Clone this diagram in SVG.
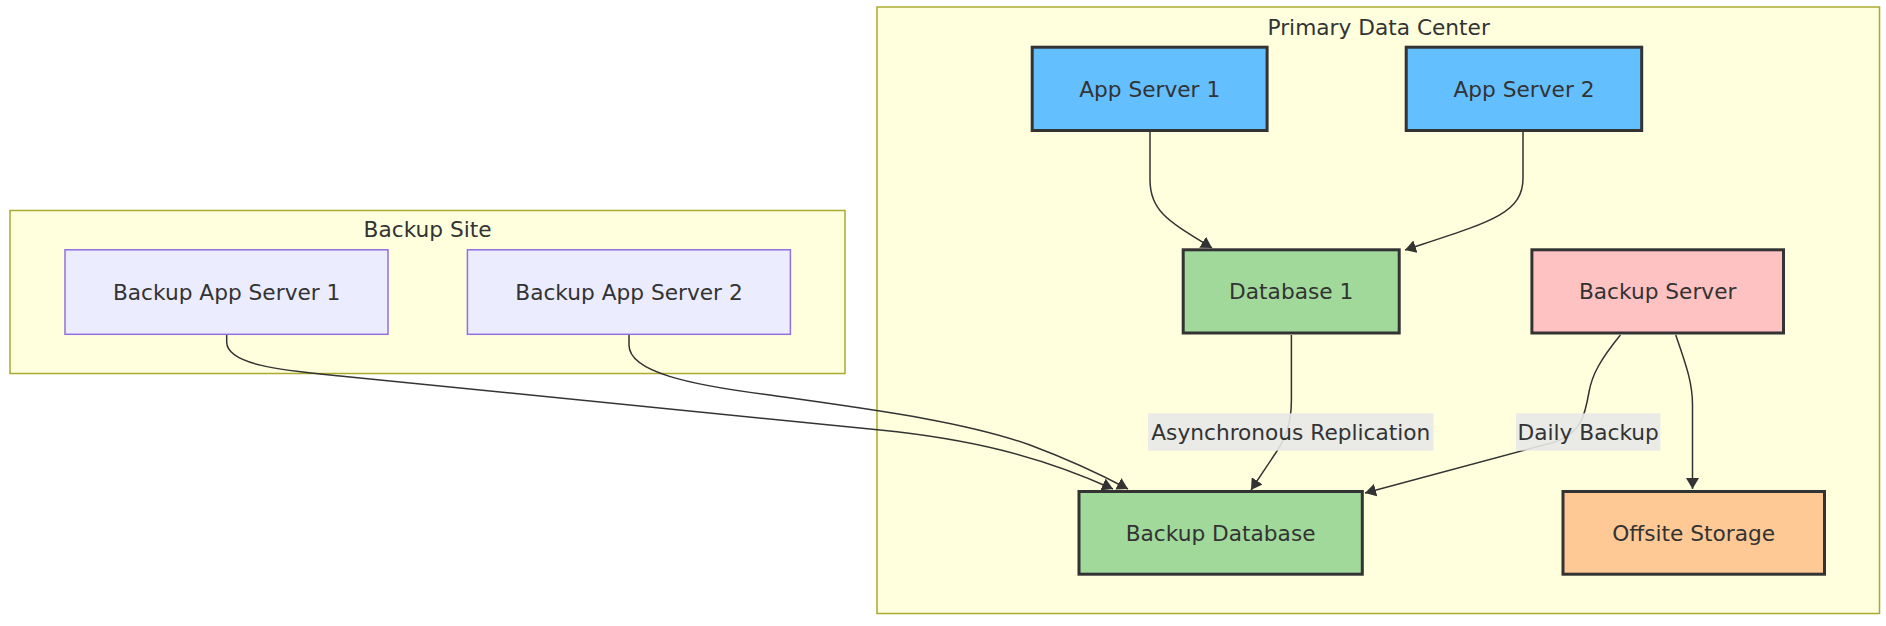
<svg xmlns="http://www.w3.org/2000/svg" width="1886" height="626" viewBox="0 0 1886 626">
<style>
text{font-family:"DejaVu Sans","Liberation Sans",sans-serif;font-size:21.7px;fill:#333;text-anchor:middle}
.cluster{fill:#ffffde;stroke:#aaaa33;stroke-width:1.5}
.thick{stroke:#333;stroke-width:3}
.plain{fill:#ececff;stroke:#9370db;stroke-width:1.5}
.edge{fill:none;stroke:#333;stroke-width:1.5}
.lbl{fill:#e8e8e8;opacity:0.9}
</style>
<defs>
<marker id="arr" markerUnits="userSpaceOnUse" viewBox="0 0 11 13" refX="11" refY="6.5" markerWidth="11" markerHeight="13" orient="auto">
<path d="M0,0 L11,6.5 L0,13 z" fill="#333"/>
</marker>
</defs>
<rect width="1886" height="626" fill="#fff"/>
<g id="backup-site">
<rect class="cluster" x="10" y="210.5" width="835" height="163"/>
<text x="427.6" y="237">Backup Site</text>
</g>
<g id="primary-dc">
<rect class="cluster" x="877" y="7" width="1002.5" height="606.5"/>
<text x="1378.7" y="34.5">Primary Data Center</text>
</g>
<g id="connectors">
<path class="edge" marker-end="url(#arr)" d="M1150,132 L1150,180 C1150,212 1170,222 1212,248"/>
<path class="edge" marker-end="url(#arr)" d="M1523,132 L1523,178 C1523,214 1490,222 1405,250"/>
<path class="edge" marker-end="url(#arr)" d="M1291.4,335 L1291.4,400 C1291.4,425 1285,440 1273,457 L1251,490"/>
<path class="edge" marker-end="url(#arr)" d="M1620.4,335 C1600,360 1592,375 1589,392 C1585,415 1582,432 1555,442 L1365,493"/>
<path class="edge" marker-end="url(#arr)" d="M1675.7,335 C1688,370 1692.5,385 1692.5,405 L1692.5,489"/>
<path class="edge" marker-end="url(#arr)" d="M226.7,335 L226.7,342 C226.7,366 290,371 340,376 L880,430 C970,439 1040,456 1113,489"/>
<path class="edge" marker-end="url(#arr)" d="M629,335 L629,345 C629,372 690,385 770,395 C860,408 960,420 1030,445 C1070,460 1100,474 1128,489"/>
</g>
<g id="edge-label-async">
<rect class="lbl" x="1148" y="413.3" width="285.5" height="37.4"/>
<text x="1290.8" y="440">Asynchronous Replication</text>
</g>
<g id="edge-label-daily">
<rect class="lbl" x="1516" y="413.3" width="144.4" height="37.4"/>
<text x="1588.2" y="440">Daily Backup</text>
</g>
<g id="app-server-1">
<rect class="thick" fill="#64bfff" x="1032.2" y="47.2" width="234.9" height="83.3"/>
<text x="1149.7" y="96.5">App Server 1</text>
</g>
<g id="app-server-2">
<rect class="thick" fill="#64bfff" x="1406.2" y="47.2" width="235.5" height="83.3"/>
<text x="1524" y="96.5">App Server 2</text>
</g>
<g id="database-1">
<rect class="thick" fill="#a1d99b" x="1183.2" y="249.8" width="216" height="83.2"/>
<text x="1291.2" y="299">Database 1</text>
</g>
<g id="backup-server">
<rect class="thick" fill="#ffc2c2" x="1531.9" y="249.8" width="251.6" height="83.2"/>
<text x="1657.7" y="299">Backup Server</text>
</g>
<g id="backup-database">
<rect class="thick" fill="#a1d99b" x="1079" y="491.5" width="283.3" height="82.7"/>
<text x="1220.6" y="540.5">Backup Database</text>
</g>
<g id="offsite-storage">
<rect class="thick" fill="#ffc996" x="1563" y="491.5" width="261.5" height="82.7"/>
<text x="1693.7" y="540.5">Offsite Storage</text>
</g>
<g id="backup-app-server-1">
<rect class="plain" x="65" y="249.8" width="323" height="84.5"/>
<text x="226.7" y="299.5">Backup App Server 1</text>
</g>
<g id="backup-app-server-2">
<rect class="plain" x="467.4" y="249.8" width="323" height="84.5"/>
<text x="629" y="299.5">Backup App Server 2</text>
</g>
</svg>
